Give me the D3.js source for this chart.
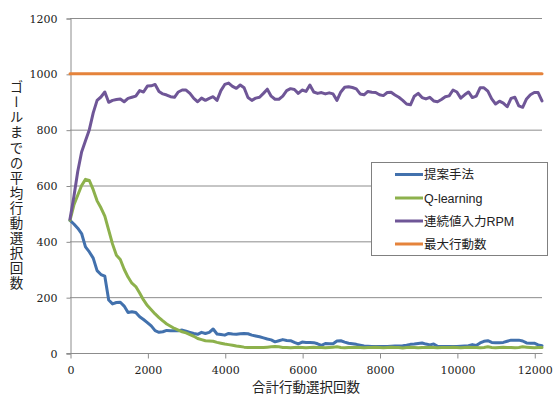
<!DOCTYPE html>
<html>
<head>
<meta charset="utf-8">
<script src="https://cdn.jsdelivr.net/npm/d3@7"></script>
<style>
  html, body { margin: 0; padding: 0; background: #fff; }
  svg { display: block; }
</style>
</head>
<body>
<svg id="chart" width="555" height="399"></svg>
<script>
// Average number of action selections until the goal, sampled every 100 total selections
const steps = d3.range(0, 12201, 100);

const proposed = [
  475, 462, 447, 428, 380, 362, 340, 295, 281, 275,
  190, 176, 181, 182, 168, 145, 148, 145, 130, 120,
  109, 97, 80, 74, 76, 81, 80, 80, 80, 82,
  78, 74, 70, 67, 74, 70, 74, 86, 68, 66,
  64, 70, 68, 67, 69, 70, 69, 64, 61, 58,
  54, 50, 47, 40, 44, 48, 45, 44, 38, 33,
  39, 38, 38, 37, 33, 27, 34, 33, 33, 43,
  44, 39, 35, 33, 31, 28, 25, 24, 23, 23,
  23, 23, 23, 24, 25, 25, 26, 28, 31, 32,
  34, 36, 32, 29, 32, 24, 23, 23, 23, 23,
  23, 24, 25, 26, 30, 27, 36, 42, 44, 38,
  37, 37, 38, 42, 46, 46, 46, 43, 36, 35,
  35, 29, 26
];

const qLearning = [
  475, 530, 565, 600, 622, 618, 585, 545, 520, 490,
  440, 390, 350, 335, 300, 272, 250, 238, 215, 190,
  170, 155, 140, 127, 115, 104, 96, 88, 82, 76,
  72, 66, 60, 52, 48, 44, 43, 42, 38, 35,
  32, 30, 28, 25, 23, 21, 20, 20, 20, 20,
  20, 21, 22, 23, 22, 20, 20, 19, 20, 21,
  20, 19, 20, 21, 20, 20, 19, 20, 21, 22,
  20, 19, 20, 20, 21, 20, 19, 20, 20, 21,
  20, 19, 20, 21, 20, 20, 18, 20, 21, 20,
  19, 20, 20, 21, 20, 19, 20, 20, 20, 21,
  20, 19, 20, 21, 20, 20, 19, 20, 22, 20,
  19, 20, 21, 20, 20, 19, 20, 22, 21, 20,
  19, 20, 20
];

const continuousRPM = [
  480, 560, 650, 720, 760, 800, 860, 905, 917, 935,
  898, 905, 908, 910, 900, 912, 916, 920, 940, 935,
  956, 957, 962, 937, 928, 924, 918, 916, 935, 942,
  942, 930, 912, 900, 913, 905, 912, 918, 905, 940,
  962, 967, 955, 948, 960, 950, 915, 905, 913, 916,
  930, 945, 920, 909, 909, 920, 940, 947, 944, 930,
  942, 937, 960, 935, 930, 933, 928, 932, 928, 905,
  935, 952, 954, 951, 946, 928, 925, 937, 934, 933,
  925, 922, 933, 934, 924, 916, 905, 892, 889, 920,
  930, 915, 910, 916, 903, 900, 908, 918, 921, 942,
  935, 913, 925, 935, 915, 920, 950, 950, 938, 910,
  892, 902, 895, 882, 912, 916, 885, 880, 910, 925,
  933, 933, 903
];

const maxActions = steps.map(() => 1000);

const seriesNames = ["提案手法", "Q-learning", "連続値入力RPM", "最大行動数"];
const seriesValues = [proposed, qLearning, continuousRPM, maxActions];
const seriesColors = ["#4271ad", "#8db14c", "#6f5697", "#e5833b"];

const xTicks = [0, 2000, 4000, 6000, 8000, 10000, 12000];
const yTicks = [0, 200, 400, 600, 800, 1000, 1200];

const xTitle = "合計行動選択回数";
const yTitle = "ゴールまでの平均行動選択回数";

const svg = d3.select("#chart");
const plot = { left: 70, right: 542, top: 18, bottom: 353 };

const x = d3.scaleLinear().domain([0, 12200]).range([plot.left, plot.right]);
const y = d3.scaleLinear().domain([0, 1200]).range([plot.bottom, plot.top]);

const tickFont = "'DejaVu Serif', serif";
const cjkFont = "'Liberation Sans', 'Noto Sans CJK JP', sans-serif";
const gridColor = "#8c8c8c";

// horizontal gridlines
svg.append("g")
  .selectAll("line")
  .data(yTicks.filter(d => d > 0))
  .join("line")
  .attr("x1", plot.left).attr("x2", plot.right)
  .attr("y1", d => y(d) + 0.5).attr("y2", d => y(d) + 0.5)
  .attr("stroke", gridColor).attr("stroke-width", 1);

// y axis
const yAxis = svg.append("g")
  .attr("transform", `translate(${plot.left + 0.5},0.5)`)
  .call(d3.axisLeft(y).tickValues(yTicks).tickSize(4).tickPadding(9).tickFormat(d3.format("d")));
yAxis.attr("font-family", null);
yAxis.select(".domain").attr("stroke", gridColor);
yAxis.selectAll(".tick line").attr("stroke", gridColor);
yAxis.selectAll("text").style("font-family", tickFont).attr("font-size", 11).attr("fill", "#222");

// x axis
const xAxis = svg.append("g")
  .attr("transform", `translate(0.5,${plot.bottom + 0.5})`)
  .call(d3.axisBottom(x).tickValues(xTicks).tickSize(5).tickPadding(8).tickFormat(d3.format("d")));
xAxis.attr("font-family", null);
xAxis.select(".domain").attr("stroke", gridColor).attr("d", `M${plot.left - 4},0H${plot.right}`);
xAxis.selectAll(".tick line").attr("stroke", gridColor);
xAxis.selectAll("text").style("font-family", tickFont).attr("font-size", 11).attr("fill", "#222");

// series lines
const line = d3.line()
  .x((d, i) => x(steps[i]))
  .y(d => y(d));

svg.append("g")
  .selectAll("path")
  .data(seriesValues)
  .join("path")
  .attr("d", d => line(d))
  .attr("fill", "none")
  .attr("stroke", (d, i) => seriesColors[i])
  .attr("stroke-width", 3)
  .attr("stroke-linejoin", "round")
  .attr("stroke-linecap", "round");

// legend
const legend = svg.append("g");
legend.append("rect")
  .attr("x", 371.5).attr("y", 162.5)
  .attr("width", 176).attr("height", 93)
  .attr("fill", "#fff").attr("stroke", "#808080").attr("stroke-width", 1);

const rowY = [174.5, 198, 221, 244];
const items = legend.selectAll("g.item")
  .data(seriesNames)
  .join("g")
  .attr("class", "item")
  .attr("transform", (d, i) => `translate(0,${rowY[i]})`);
items.append("line")
  .attr("x1", 395).attr("x2", 423)
  .attr("y1", 0).attr("y2", 0)
  .attr("stroke", (d, i) => seriesColors[i])
  .attr("stroke-width", 3);
items.append("text")
  .attr("x", 424).attr("y", 0)
  .attr("dy", "0.36em")
  .attr("font-family", cjkFont)
  .attr("font-size", 12.5)
  .attr("fill", "#222")
  .text(d => d);

// axis titles
svg.append("text")
  .attr("x", (plot.left + plot.right) / 2)
  .attr("y", 392)
  .attr("text-anchor", "middle")
  .attr("font-family", cjkFont)
  .attr("font-size", 13.5)
  .attr("fill", "#222")
  .text(xTitle);

svg.append("text")
  .attr("x", 15)
  .attr("y", 186)
  .attr("text-anchor", "middle")
  .attr("font-family", cjkFont)
  .attr("font-size", 13.5)
  .attr("letter-spacing", 1.6)
  .attr("fill", "#222")
  .style("writing-mode", "vertical-rl")
  .style("text-orientation", "upright")
  .text(yTitle);
</script>
</body>
</html>
